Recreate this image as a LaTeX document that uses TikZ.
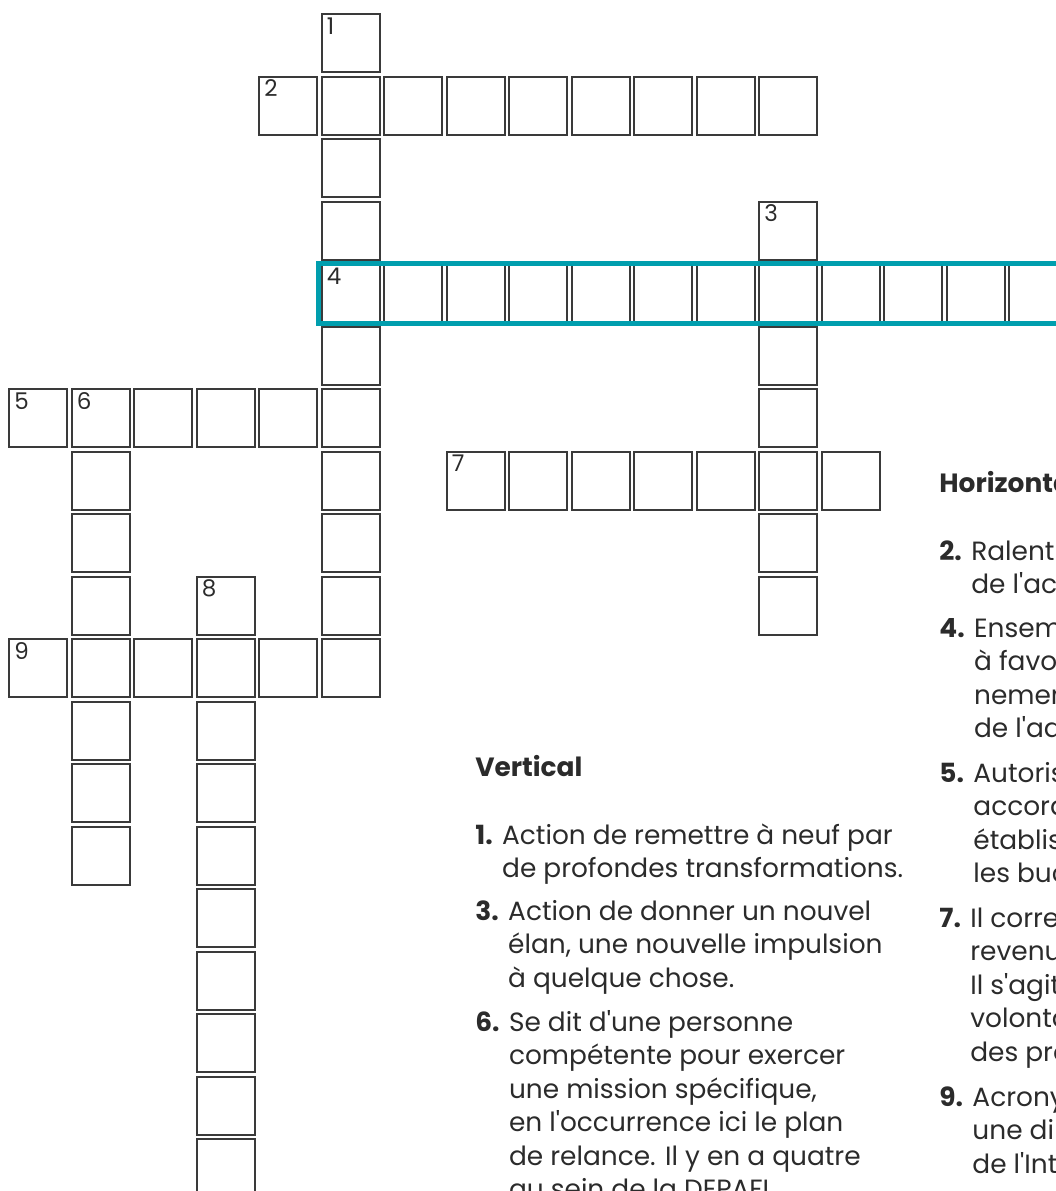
\documentclass[tikz,border=0pt]{standalone}
\usepackage{fontspec}
\setmainfont{Poppins}[Ligatures=TeXOff]

\definecolor{gridline}{HTML}{3A3A3A}
\definecolor{inktext}{HTML}{2B2B2B}
\definecolor{tealmark}{RGB}{0,158,174}

\tikzset{
  cell/.style={draw=gridline, line width=1pt, minimum size=29pt, inner sep=0pt},
  cellnum/.style={anchor=base west, inner sep=0pt, text=inktext,
    font=\fontsize{11.5}{13}\selectfont},
  heading/.style={anchor=base west, inner sep=0pt, text=inktext,
    font=\fontsize{13.2}{16.75}\selectfont\bfseries},
  clue/.style={anchor=base west, inner sep=0pt, text=inktext,
    font=\fontsize{13.2}{16.75}\selectfont},
}

\begin{document}
\begin{tikzpicture}[x=0.5pt, y=-0.5pt]
  \useasboundingbox (0,0) rectangle (1056,1191);
  \clip (0,0) rectangle (1056,1191);

  % vertical words
  \foreach \r in {0,...,9}   \node[cell] (c5-\r)  at ({38+62.5*5},{43+62.5*\r}) {};
  \foreach \r in {3,...,9}   \node[cell] (c12-\r) at ({38+62.5*12},{43+62.5*\r}) {};
  \foreach \r in {6,...,13}  \node[cell] (c1-\r)  at ({38+62.5*1},{43+62.5*\r}) {};
  \foreach \r in {9,...,18}  \node[cell] (c3-\r)  at ({38+62.5*3},{43+62.5*\r}) {};

  % horizontal words
  \foreach \c in {4,...,12}  \node[cell] (c\c-1)  at ({38+62.5*\c},{43+62.5*1}) {};
  \foreach \c in {5,...,16}  \node[cell] (c\c-4)  at ({38+62.5*\c},{43+62.5*4}) {};
  \foreach \c in {0,...,5}   \node[cell] (c\c-6)  at ({38+62.5*\c},{43+62.5*6}) {};
  \foreach \c in {7,...,13}  \node[cell] (c\c-7)  at ({38+62.5*\c},{43+62.5*7}) {};
  \foreach \c in {0,...,5}   \node[cell] (c\c-10) at ({38+62.5*\c},{43+62.5*10}) {};

  % word 4 is marked
  \draw[tealmark, line width=2.5pt] (318.5,263) rectangle (1080,323.5);

  % numbers in the first cells
  \node[cellnum] (n1) at ([shift={(6,21)}]c5-0.north west)  {1};
  \node[cellnum] (n2) at ([shift={(6,21)}]c4-1.north west)  {2};
  \node[cellnum] (n3) at ([shift={(6,21)}]c12-3.north west) {3};
  \node[cellnum] (n4) at ([shift={(6,21)}]c5-4.north west)  {4};
  \node[cellnum] (n5) at ([shift={(6,21)}]c0-6.north west)  {5};
  \node[cellnum] (n6) at ([shift={(6,21)}]c1-6.north west)  {6};
  \node[cellnum] (n7) at ([shift={(6,21)}]c7-7.north west)  {7};
  \node[cellnum] (n8) at ([shift={(6,21)}]c3-9.north west)  {8};
  \node[cellnum] (n9) at ([shift={(6,21)}]c0-10.north west) {9};

  % clues
  \node[heading] (vert) at (475,776) {Vertical};
  \node[clue] (v1) at (475,844) {\textbf{1.} \begin{tabular}[t]{@{}l@{}}Action de remettre à neuf par\\de profondes transformations.\end{tabular}};
  \node[clue] (v3) at (475,920) {\textbf{3.} \begin{tabular}[t]{@{}l@{}}Action de donner un nouvel\\élan, une nouvelle impulsion\\à quelque chose.\end{tabular}};
  \node[clue] (v6) at (475,1031) {\textbf{6.} \begin{tabular}[t]{@{}l@{}}Se dit d'une personne\\compétente pour exercer\\une mission spécifique,\\en l'occurrence ici le plan\\de relance. Il y en a quatre\\au sein de la DEPAFI.\end{tabular}};

  \node[heading] (horiz) at (939,492) {Horizontal};
  \node[clue] (h2) at (939,560) {\textbf{2.} \begin{tabular}[t]{@{}l@{}}Ralentis\\de l'acti\end{tabular}};
  \node[clue] (h4) at (939,637) {\textbf{4.} \begin{tabular}[t]{@{}l@{}}Ensembl\\à favori\\nement\\de l'adm\end{tabular}};
  \node[clue] (h5) at (939,782) {\textbf{5.} \begin{tabular}[t]{@{}l@{}}Autoris\\accord\\établiss\\les buc\end{tabular}};
  \node[clue] (h7) at (939,927) {\textbf{7.} \begin{tabular}[t]{@{}l@{}}Il corres\\revenu\\Il s'agit\\volonta\\des pro\end{tabular}};
  \node[clue] (h9) at (939,1106) {\textbf{9.} \begin{tabular}[t]{@{}l@{}}Acrony\\une dir\\de l'Int\end{tabular}};
\end{tikzpicture}
\end{document}
